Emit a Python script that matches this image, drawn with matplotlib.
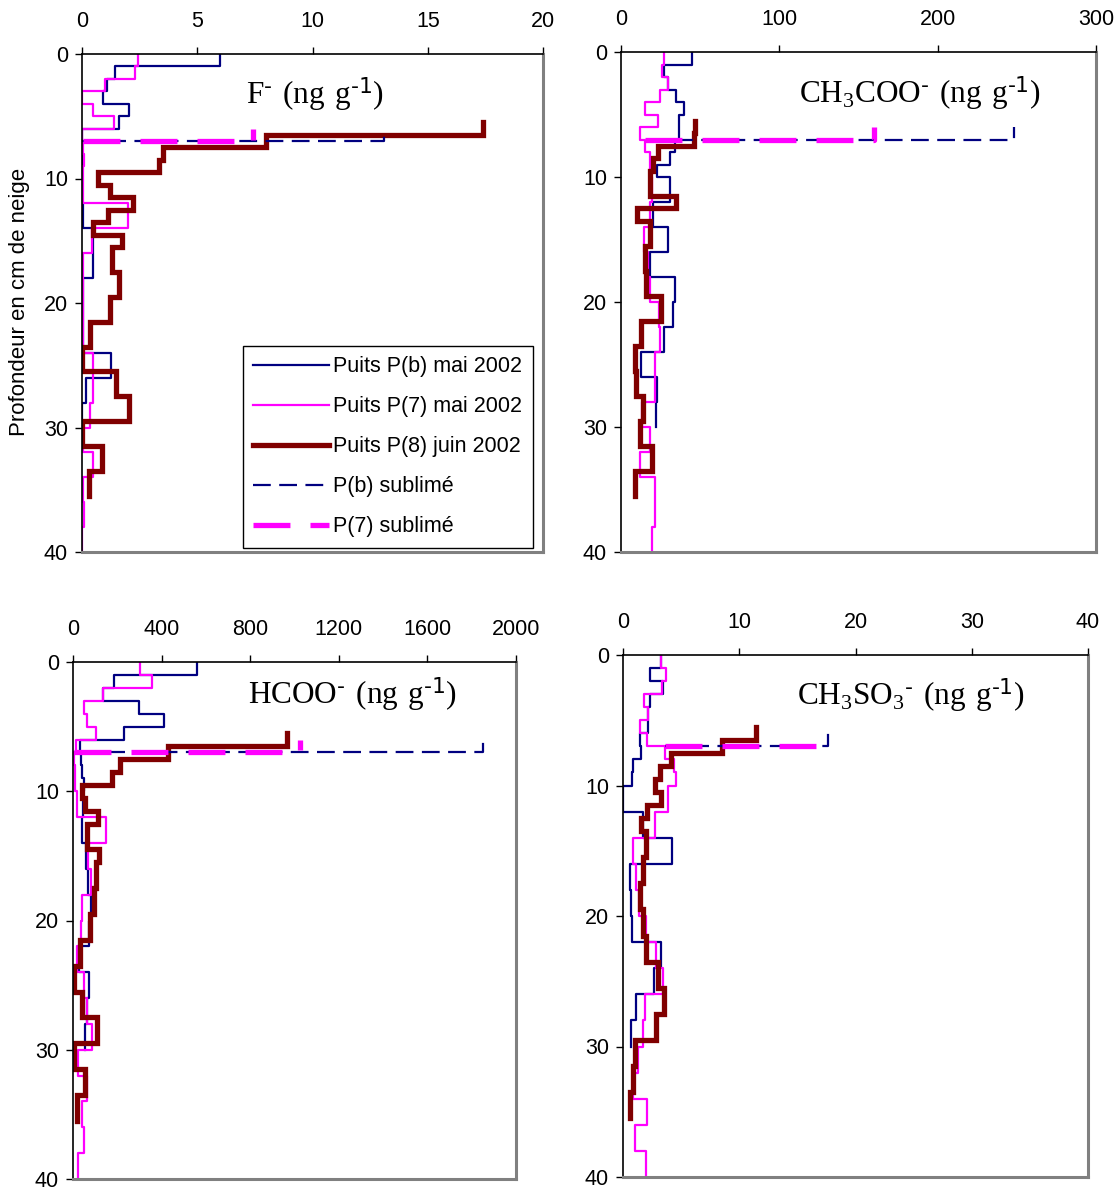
import matplotlib
matplotlib.use("Agg")
import matplotlib.pyplot as plt

# depth boundaries (cm)
well_depth = [0, 1, 2, 3, 4, 5, 6, 7, 8, 9, 10, 12, 14, 16, 18, 20, 22, 24, 26, 28, 30,
              32, 34, 36, 38, 40]
p8_depth = [5.5, 6.5, 7.5, 8.5, 9.5, 10.5, 11.5, 12.5, 13.5, 14.5, 15.5, 17.5, 19.5,
            21.5, 23.5, 25.5, 27.5, 29.5, 31.5, 33.5, 35.5]
sub_depth = [7, 7, 6]

# F-
f_pb = [6.0, 1.43, 1.07, 0.9, 2.04, 1.62, 0.0, 0.02, 0.02, 0.02, 0.02, 0.05, 0.49, 0.49,
        0.05, 0.05, 0.05, 1.26, 0.17, 0.02]
f_p7 = [2.45, 2.3, 1.0, 0.0, 0.46, 1.39, 0.0, 0.05, 0.1, 0.05, 0.05, 2.0, 0.42, 0.05,
        0.05, 0.05, 0.05, 0.49, 0.49, 0.35, 0.05, 0.49, 0.05, 0.1, 0.0]
f_p8 = [17.4, 8.0, 3.53, 3.32, 0.71, 1.22, 2.23, 1.14, 0.49, 1.72, 1.29, 1.62, 1.22,
        0.35, 0.0, 1.48, 2.04, 0.0, 0.86, 0.32]
f_pb_sub = [0.02, 13.1, 13.1]
f_p7_sub = [0.05, 7.44, 7.44]

# CH3COO-
ac_pb = [44.9, 27.2, 29.7, 35.0, 39.7, 36.5, 36.5, 34.0, 30.8, 22.8, 31.2, 20.3, 29.7,
         18.1, 34.0, 33.0, 27.2, 12.9, 22.8, 21.9]
ac_p7 = [27.2, 26.0, 29.7, 24.9, 15.0, 23.4, 12.2, 15.0, 18.6, 18.6, 19.6, 18.6, 14.6,
         17.1, 18.1, 24.0, 24.5, 21.3, 21.3, 13.5, 18.6, 11.8, 21.3, 21.3, 19.8]
ac_p8 = [47.0, 46.0, 23.4, 20.3, 18.1, 18.1, 35.0, 10.3, 18.6, 18.6, 15.0, 16.0, 25.5,
         12.9, 8.6, 9.7, 13.9, 11.8, 19.8, 8.6]
ac_pb_sub = [34.0, 248.0, 248.0]
ac_p7_sub = [15.0, 159.5, 159.5]

# HCOO-
fo_pb = [559, 186, 135, 296, 412, 229, 33, 36, 41, 48, 45, 41, 60, 66, 81, 71, 26, 71,
         63, 56]
fo_p7 = [304, 356, 135, 51, 63, 105, 15, 3, 10, 10, 18, 150, 66, 81, 41, 36, 18, 48, 63,
         86, 21, 63, 41, 51, 21]
fo_p8 = [966, 427, 214, 176, 41, 53, 111, 63, 63, 116, 105, 96, 78, 33, 3, 41, 108, 6,
         56, 18]
fo_pb_sub = [36, 1850, 1850]
fo_p7_sub = [3, 1026, 1026]

# CH3SO3-
ms_pb = [3.3, 2.3, 3.45, 2.3, 2.15, 2.15, 1.44, 1.58, 0.86, 0.78, 0.0, 1.72, 4.25, 0.63,
         0.72, 0.8, 3.25, 2.64, 1.15, 0.72]
ms_p7 = [3.3, 3.7, 3.36, 1.78, 2.15, 1.44, 2.07, 3.6, 4.37, 4.54, 3.88, 2.73, 0.86, 1.09,
         1.38, 2.0, 2.87, 3.45, 1.93, 1.72, 1.29, 0.86, 2.1, 1.0, 2.0]
ms_p8 = [11.4, 8.5, 4.1, 3.16, 2.73, 3.3, 2.07, 1.58, 1.95, 1.95, 1.72, 1.44, 1.72, 1.95,
         3.0, 3.5, 2.87, 1.0, 0.86, 0.63]
ms_pb_sub = [3.6, 17.6, 17.6]
ms_p7_sub = [3.6, 17.15, 17.15]

titles = [r"$\mathregular{F^{\text{-}}\ (ng\ g^{\text{-1}})}$",
          r"$\mathregular{CH_3COO^{\text{-}}\ (ng\ g^{\text{-1}})}$",
          r"$\mathregular{HCOO^{\text{-}}\ (ng\ g^{\text{-1}})}$",
          r"$\mathregular{CH_3SO_3{}^{\text{-}}\ (ng\ g^{\text{-1}})}$"]
xticks = [[0, 5, 10, 15, 20], [0, 100, 200, 300], [0, 400, 800, 1200, 1600, 2000],
          [0, 10, 20, 30, 40]]
yticks = [0, 10, 20, 30, 40]
labels = ["Puits P(b) mai 2002", "Puits P(7) mai 2002", "Puits P(8) juin 2002",
          "P(b) sublimé", "P(7) sublimé"]

panels = [(f_pb, f_p7, f_p8, f_pb_sub, f_p7_sub),
          (ac_pb, ac_p7, ac_p8, ac_pb_sub, ac_p7_sub),
          (fo_pb, fo_p7, fo_p8, fo_pb_sub, fo_p7_sub),
          (ms_pb, ms_p7, ms_p8, ms_pb_sub, ms_p7_sub)]

W, H = 1119, 1191
boxes = [(82, 54, 543, 552), (621, 52, 1096, 552), (73, 662, 516, 1179), (623, 655, 1088, 1177)]
title_pos = [(0.505, 0.918), (0.63, 0.916), (0.63, 0.937), (0.62, 0.922)]


def steps(bounds, vals):
    xs, ys = [], []
    for i, v in enumerate(vals):
        xs += [v, v]
        ys += [bounds[i], bounds[i + 1]]
    return xs, ys


plt.rcParams['font.family'] = ['Liberation Sans', 'DejaVu Sans']
fig = plt.figure(figsize=(W / 100, H / 100), dpi=100)

navy = '#000080'
pink = '#FF00FF'
dred = '#800000'

for k in range(4):
    l, t, r, b = boxes[k]
    ax = fig.add_axes([l / W, 1 - b / H, (r - l) / W, (b - t) / H])
    pb, p7, p8, pbs, p7s = panels[k]

    x, y = steps(well_depth, pb)
    h1, = ax.plot(x, y, color=navy, lw=1.6)
    x, y = steps(well_depth, p7)
    h2, = ax.plot(x, y, color=pink, lw=1.6)
    x, y = steps(p8_depth, p8)
    h3, = ax.plot(x, y, color=dred, lw=3.8, solid_joinstyle='miter')
    h4, = ax.plot(pbs, sub_depth, color=navy, lw=1.6, dashes=(8, 3.8))
    h5, = ax.plot(p7s, sub_depth, color=pink, lw=3.8, dashes=(7, 3.8))

    ax.set_xlim(xticks[k][0], xticks[k][-1])
    ax.set_ylim(40, 0)
    ax.set_xticks(xticks[k])
    ax.set_yticks(yticks)
    ax.xaxis.tick_top()
    ax.tick_params(axis='x', direction='out', length=5, width=1, labelsize=15.5, pad=11)
    ax.tick_params(axis='y', direction='out', length=5, width=1, labelsize=15.5, pad=5)
    ax.spines['left'].set_linewidth(1.2)
    ax.spines['top'].set_linewidth(1.2)
    for s in ['right', 'bottom']:
        ax.spines[s].set_color('#808080')
        ax.spines[s].set_linewidth(2.2)

    ax.text(title_pos[k][0], title_pos[k][1], titles[k], transform=ax.transAxes,
            ha='center', va='center', fontsize=22.5, family='Liberation Serif')

    if k == 0:
        leg = ax.legend([h1, h2, h3, h4, h5], labels, loc='lower right',
                        bbox_to_anchor=(0.978, 0.008), borderaxespad=0, fontsize=15.5,
                        handlelength=3.5, handletextpad=0.2, labelspacing=0.88,
                        borderpad=0.5, fancybox=False, framealpha=1)
        leg.get_frame().set_edgecolor('black')
        leg.get_frame().set_linewidth(1.0)

fig.text(20 / W, 1 - 302 / H, "Profondeur en cm de neige", rotation=90,
         ha='center', va='center', fontsize=16)

fig.savefig("out.png", dpi=100)
